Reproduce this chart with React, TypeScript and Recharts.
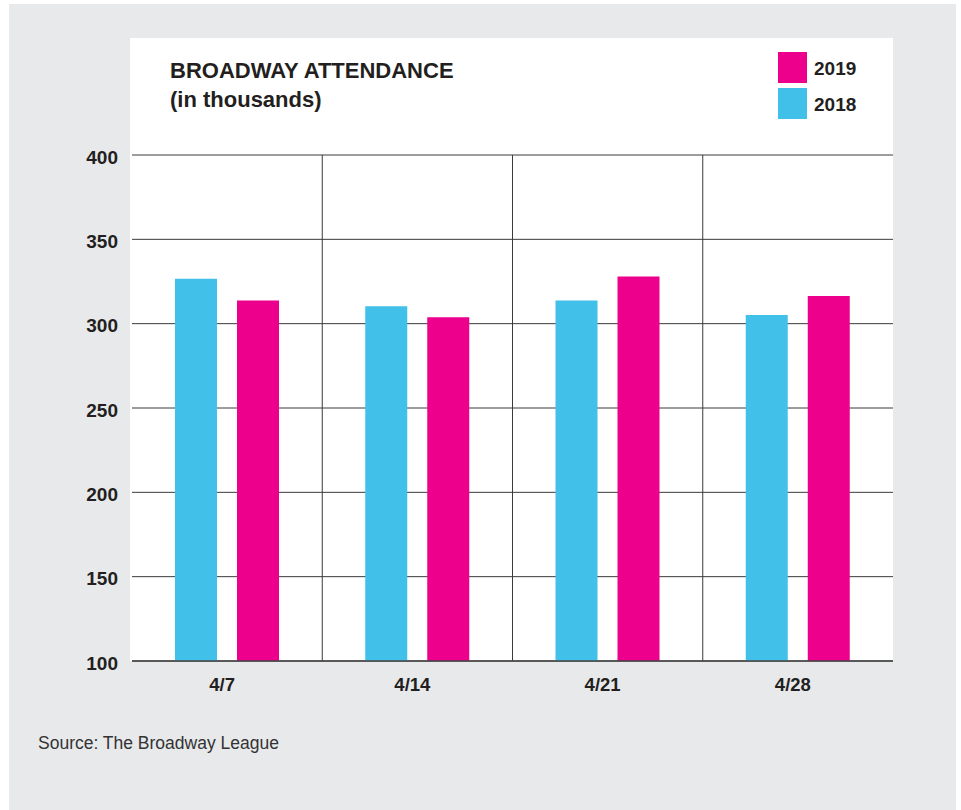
import React from 'react';
import { BarChart, Bar, XAxis, YAxis, CartesianGrid } from 'recharts';

const weeks = ['4/7', '4/14', '4/21', '4/28'];
const attendance2018 = [326.7, 310.3, 313.8, 305.1];
const attendance2019 = [313.8, 303.8, 327.9, 316.4];
const yTicks = [100, 150, 200, 250, 300, 350, 400];
const seriesNames = ['2018', '2019'];

const CYAN = '#41c0ea';
const MAGENTA = '#ec008c';
const INK = '#231f20';
const FONT = '"Liberation Sans", Arial, sans-serif';
const seriesColors = [CYAN, MAGENTA];

const chartData = weeks.map((week, i) => ({
  week,
  y2018: attendance2018[i],
  y2019: attendance2019[i],
}));

// vertical separators sit between the week bands, not at band centres
const bandEdges = ({ offset }: any) => {
  const lines: number[] = [];
  for (let i = 1; i < weeks.length; i++) {
    lines.push(offset.left + (offset.width * i) / weeks.length);
  }
  return lines;
};

const LegendBox = () => {
  // newest year on top, as in the print version
  const items = seriesNames.map((name, i) => ({ name, color: seriesColors[i] })).reverse();
  return (
    <div style={{ position: 'absolute', left: 778, top: 49 }}>
      {items.map((item) => (
        <div key={item.name} style={{ display: 'flex', alignItems: 'center', height: 36 }}>
          <div style={{ width: 29, height: 31, background: item.color, marginRight: 7 }} />
          <span style={{ fontFamily: FONT, fontWeight: 700, fontSize: 19, color: INK, position: 'relative', top: 2 }}>{item.name}</span>
        </div>
      ))}
    </div>
  );
};

const App = () => {
  return (
    <div style={{ position: 'absolute', left: 0, top: 0, width: 961, height: 810, background: '#fff' }}>
      <div style={{ position: 'absolute', left: 9, top: 4, width: 947, height: 806, background: '#e8e9eb' }} />
      <div style={{ position: 'absolute', left: 130, top: 38, width: 763, height: 623, background: '#fff' }} />
      <div style={{ position: 'absolute', left: 170, top: 56, fontFamily: FONT, fontWeight: 700, fontSize: 22, lineHeight: '29px', color: INK }}>
        <div>BROADWAY ATTENDANCE</div>
        <div>(in thousands)</div>
      </div>
      <LegendBox />
      <div style={{ position: 'absolute', left: 38, top: 733, fontFamily: FONT, fontSize: 17.5, color: '#333' }}>
        Source: The Broadway League
      </div>
      <BarChart
        width={961}
        height={810}
        data={chartData}
        margin={{ top: 155, right: 68, bottom: 119, left: 0 }}
        barSize={42}
        barGap={20}
        style={{ position: 'absolute', left: 0, top: 0 }}
      >
        <CartesianGrid
          stroke="#3a3a3a"
          strokeWidth={1}
          vertical
          verticalCoordinatesGenerator={bandEdges}
        />
        <XAxis
          dataKey="week"
          height={30}
          axisLine={{ stroke: '#444', strokeWidth: 1.5 }}
          tickLine={false}
          tickSize={0}
          tickMargin={17}
          dx={-5}
          tick={{ fill: INK, fontFamily: FONT, fontWeight: 700, fontSize: 18.5 }}
        />
        <YAxis
          width={132}
          domain={[100, 400]}
          ticks={yTicks}
          allowDataOverflow
          axisLine={false}
          tickLine={false}
          tickSize={0}
          tickMargin={14}
          tick={{ fill: INK, fontFamily: FONT, fontWeight: 700, fontSize: 19, dy: 2 }}
        />
        <Bar dataKey="y2018" name={seriesNames[0]} fill={CYAN} isAnimationActive={false} />
        <Bar dataKey="y2019" name={seriesNames[1]} fill={MAGENTA} isAnimationActive={false} />
      </BarChart>
    </div>
  );
};

export default App;
